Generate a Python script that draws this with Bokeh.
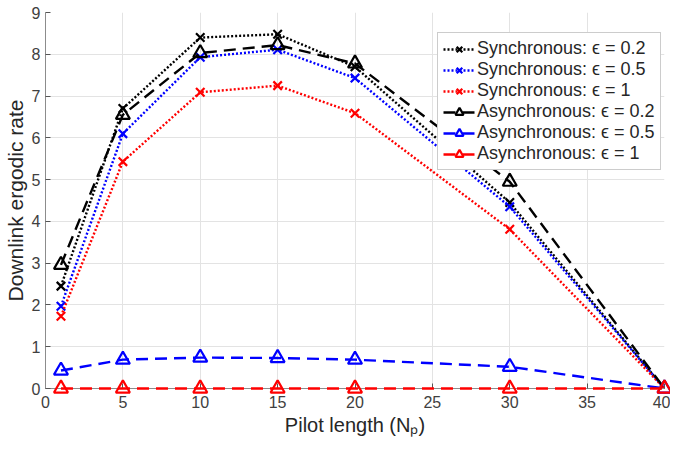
from bokeh.plotting import figure
from bokeh.models import Legend, LegendItem, FixedTicker
from bokeh.embed import file_html
from bokeh.resources import INLINE

pilot = [1, 5, 10, 15, 20, 30, 40]
sync_02 = [2.45, 6.70, 8.40, 8.48, 7.70, 4.45, 0.0]
sync_05 = [1.97, 6.10, 7.93, 8.11, 7.43, 4.35, 0.0]
sync_1 = [1.73, 5.43, 7.09, 7.25, 6.59, 3.81, 0.0]
async_02 = [2.96, 6.55, 8.03, 8.22, 7.78, 4.95, 0.0]
async_05 = [0.43, 0.69, 0.74, 0.73, 0.69, 0.52, 0.0]
async_1 = [0.0, 0.0, 0.0, 0.0, 0.0, 0.0, 0.0]

labels = [
    "Synchronous: \u03f5 = 0.2",
    "Synchronous: \u03f5 = 0.5",
    "Synchronous: \u03f5 = 1",
    "Asynchronous: \u03f5 = 0.2",
    "Asynchronous: \u03f5 = 0.5",
    "Asynchronous: \u03f5 = 1",
]
x_ticks = [0, 5, 10, 15, 20, 25, 30, 35, 40]
y_ticks = [0, 1, 2, 3, 4, 5, 6, 7, 8, 9]

FONT = "Liberation Sans"

p = figure(width=670, height=438, output_backend="svg", toolbar_location=None,
           x_range=(0, 40), y_range=(0, 9),
           min_border_left=39, min_border_right=6, min_border_top=12, min_border_bottom=50)
p.outline_line_color = None
p.background_fill_color = "white"

for ax in (p.xaxis[0], p.yaxis[0]):
    ax.axis_line_color = "#8c8c8c"
    ax.axis_line_width = 1
    ax.major_tick_in = 5
    ax.major_tick_out = 0
    ax.minor_tick_line_color = None
    ax.major_tick_line_color = "#555555"
    ax.major_label_text_font = FONT
    ax.major_label_text_font_size = "16px"
    ax.major_label_text_color = "#404040"
    ax.axis_label_text_font = FONT
    ax.axis_label_text_font_style = "normal"
    ax.axis_label_text_color = "#262626"

p.xaxis.ticker = FixedTicker(ticks=x_ticks)
p.yaxis.ticker = FixedTicker(ticks=y_ticks)
p.xaxis.axis_label = "Pilot length (N\u209a)"
p.yaxis.axis_label = "Downlink ergodic rate"
p.xaxis.axis_label_text_font_size = "20px"
p.yaxis.axis_label_text_font_size = "21px"
p.xaxis.major_label_standoff = 7
p.yaxis.major_label_standoff = 5
p.xaxis.axis_label_standoff = 3
p.yaxis.axis_label_standoff = 2

p.grid.grid_line_color = "#e3e3e3"
p.grid.grid_line_width = 1

series = [
    (sync_02, "black", "2 2", "x"),
    (sync_05, "#0000ff", "2 2", "x"),
    (sync_1, "#ff0000", "2 2", "x"),
    (async_02, "black", "12 7", "triangle"),
    (async_05, "#0000ff", "12 7", "triangle"),
    (async_1, "#ff0000", "12 7", "triangle"),
]

items = []
for i, ((ys, col, dash, mk), lab) in enumerate(zip(series, labels)):
    lvl = "overlay" if i >= 4 else "glyph"
    r1 = p.line(pilot, ys, line_color=col, line_width=2.4, line_dash=dash, level=lvl)
    if mk == "x":
        r2 = p.scatter(pilot, ys, marker="x", size=12, line_color=col, line_width=2.2)
    else:
        r2 = p.scatter(pilot, ys, marker="triangle", size=14, line_color=col,
                       fill_color=None, line_width=2.2, level=lvl)
    items.append(LegendItem(label=lab, renderers=[r1, r2]))

legend = Legend(items=items, location=(392, 218))
legend.label_text_font = FONT
legend.label_text_font_size = "18px"
legend.label_text_color = "#262626"
legend.label_standoff = 2
legend.label_height = 20
legend.glyph_width = 32
legend.glyph_height = 20
legend.spacing = 0
legend.padding = 5
legend.margin = 0
legend.border_line_color = "#9a9a9a"
legend.border_line_width = 1
legend.background_fill_color = "white"
legend.background_fill_alpha = 1
p.add_layout(legend, "center")

open("out.html", "w").write(file_html(p, INLINE))
